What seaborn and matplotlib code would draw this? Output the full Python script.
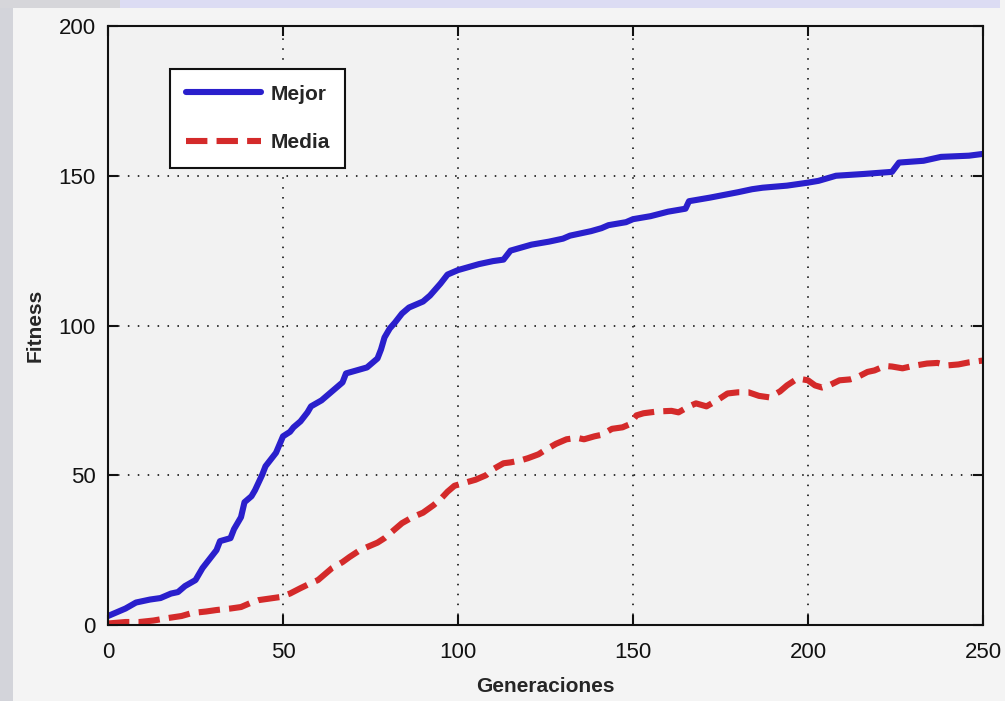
import matplotlib
matplotlib.use("Agg")
import matplotlib.pyplot as plt
from matplotlib.patches import Rectangle
import seaborn as sns
import pandas as pd

# ---- data ----
mejor_gen = [0, 3, 5, 8, 12, 15, 18, 20, 22, 25, 27, 29, 31, 32, 35, 36, 38, 39, 41, 42,
             44, 45, 47, 48, 50, 52, 53, 55, 57, 58, 61, 63, 65, 67, 68, 71, 74, 77, 78, 79,
             80.5, 82, 84, 86, 90, 92, 95, 97, 100, 103, 106, 110, 113, 115, 118, 121, 126,
             130, 132, 136, 138, 141, 143, 148, 150, 155, 160, 165, 166, 172, 180, 184, 187,
             194, 200, 203, 208, 216, 224, 226, 233, 238, 246, 250]
mejor_val = [3, 4.5, 5.5, 7.5, 8.5, 9, 10.5, 11, 13, 15, 19, 22, 25, 28, 29, 32, 36, 41, 43, 45,
             50, 53, 56, 57.5, 63, 64.5, 66, 68, 71, 73, 75, 77, 79, 81, 84, 85, 86, 89, 92, 96,
             99, 101, 104, 106, 108, 110, 114, 117, 118.5, 119.5, 120.5, 121.5, 122, 125, 126,
             127, 128, 129, 130, 131, 131.5, 132.5, 133.5, 134.5, 135.5, 136.5, 138, 139, 141.5,
             142.7, 144.5, 145.5, 146, 146.7, 147.7, 148.3, 150, 150.6, 151.3, 154.4, 155,
             156.3, 156.7, 157.3]

media_gen = [0, 5, 9, 13, 17, 21, 24, 28, 31, 35, 38, 41, 43, 46, 49, 52, 55, 58, 60, 62,
             64, 67, 69, 72, 74, 77, 79, 81, 84, 87, 90, 93, 95, 97, 99, 102, 105, 108, 110,
             113, 115, 118, 120, 123, 125, 128, 131, 134, 136, 139, 141, 144, 147, 149, 151,
             153, 157, 161, 163, 166, 168, 171, 174, 177, 180, 183, 186, 189, 192, 194, 197,
             200, 202, 204, 206, 209, 212, 214, 217, 219, 222, 224, 227, 230, 234, 237, 240,
             243, 246, 250]
media_val = [0.5, 1, 1, 1.5, 2.3, 3, 4, 4.5, 5, 5.5, 6, 7.5, 8.3, 8.8, 9.3, 10.5, 12.3, 14,
             15, 17, 19, 21, 22.7, 25, 26, 27.5, 29, 31, 34, 36, 37.5, 40, 42, 44.5, 46.5, 47.5,
             48.5, 50, 52, 54, 54.3, 55, 55.7, 57, 58.5, 60.5, 62, 62.5, 62, 63, 63.5, 65.5, 66,
             67, 70, 70.7, 71.3, 71.5, 71, 73, 74, 73, 75, 77.3, 77.7, 77.7, 76.5, 76, 78, 80,
             82.3, 81.7, 80, 79.3, 80, 81.7, 82, 82.7, 84.5, 85, 86.5, 86.3, 85.7, 86.5, 87.3,
             87.5, 86.7, 87, 87.7, 88.3]

x_ticks = [0, 50, 100, 150, 200, 250]
y_ticks = [0, 50, 100, 150, 200]
x_label = "Generaciones"
y_label = "Fitness"
series_names = ["Mejor", "Media"]

df_mejor = pd.DataFrame({"gen": mejor_gen, "fit": mejor_val})
df_media = pd.DataFrame({"gen": media_gen, "fit": media_val})

sns.set_style("ticks")
plt.rcParams["font.family"] = ["Liberation Sans", "DejaVu Sans"]

fig = plt.figure(figsize=(10.05, 7.01), dpi=100, facecolor="#f4f4f4")
# decorative background strips
fig.patches.append(Rectangle((0, 0), 13 / 1005, 1, transform=fig.transFigure,
                             facecolor="#d3d4da", edgecolor="none", zorder=-10))
fig.patches.append(Rectangle((120 / 1005, 1 - 8 / 701), 880 / 1005, 8 / 701,
                             transform=fig.transFigure, facecolor="#dcdcf3",
                             edgecolor="none", zorder=-10))
fig.patches.append(Rectangle((0, 1 - 8 / 701), 120 / 1005, 8 / 701,
                             transform=fig.transFigure, facecolor="#d6d6da",
                             edgecolor="none", zorder=-10))

ax = fig.add_axes([108 / 1005, 1 - 625 / 701, 875 / 1005, 599 / 701])
ax.set_facecolor("#f2f2f2")

sns.lineplot(data=df_mejor, x="gen", y="fit", ax=ax, color="#2a1fcc", lw=4.4,
             label=series_names[0], estimator=None, sort=False)
sns.lineplot(data=df_media, x="gen", y="fit", ax=ax, color="#d42a2a", lw=4.4,
             label=series_names[1], estimator=None, sort=False, dashes=False)
ax.lines[1].set_dashes([3.5, 1.5])

ax.set_xlim(0, 250)
ax.set_ylim(0, 200)
ax.set_xticks(x_ticks)
ax.set_yticks(y_ticks)
ax.tick_params(direction="in", length=7, width=1.5, top=True, right=True,
               labelsize=16, colors="#111111")
ax.tick_params(axis="x", pad=12)
ax.tick_params(axis="y", pad=9)
for s in ax.spines.values():
    s.set_visible(True)
    s.set_linewidth(1.5)
    s.set_color("#111111")

ax.grid(True, color="#333333", linestyle=(0, (0.8, 4.3)), linewidth=1.4)
ax.set_axisbelow(True)

ax.set_xlabel(x_label, fontsize=15, fontweight="bold", labelpad=10)
ax.set_ylabel(y_label, fontsize=15, fontweight="bold", labelpad=10)

leg = ax.legend(loc="upper left", bbox_to_anchor=(0.071, 0.928),
                prop={"weight": "bold", "size": 15}, handlelength=3.6,
                labelspacing=1.4, borderpad=0.75, handletextpad=0.45,
                fancybox=False, frameon=True, borderaxespad=0)
leg.get_frame().set_edgecolor("#111111")
leg.get_frame().set_linewidth(1.5)
leg.get_frame().set_facecolor("white")
leg.get_frame().set_alpha(1)

fig.savefig("out.png", dpi=100, facecolor=fig.get_facecolor())
